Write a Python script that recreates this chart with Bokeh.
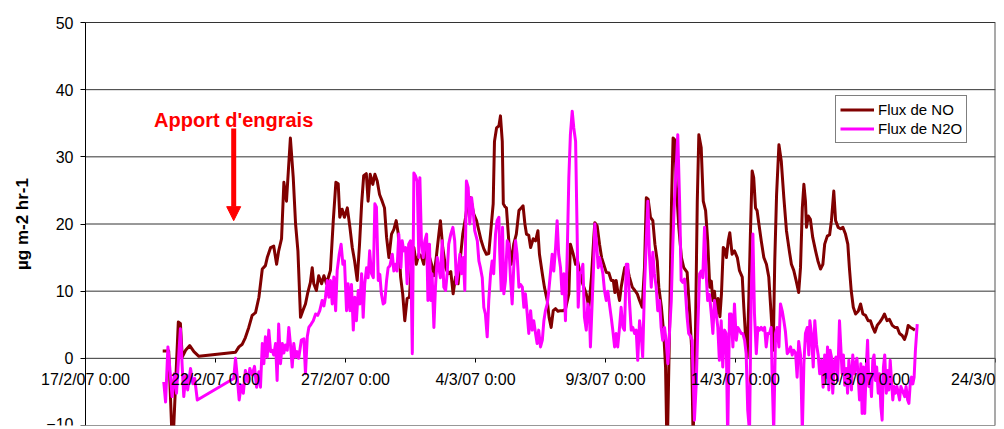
import math
import pandas as pd
from bokeh.plotting import figure
from bokeh.models import (Range1d, FixedTicker, Legend, LegendItem,
                          Arrow, NormalHead, Label)
from bokeh.embed import file_html
from bokeh.resources import INLINE

# ---------------- data ----------------
start_date = "2007-02-17"
end_date = "2007-03-24"
tick_dates = ["2007-02-17", "2007-02-22", "2007-02-27", "2007-03-04",
              "2007-03-09", "2007-03-14", "2007-03-19", "2007-03-24"]
y_ticks = [-10, 0, 10, 20, 30, 40, 50]
y_title = "µg m-2 hr-1"

# days elapsed since 17/2/07 0:00
no_day = [2.97, 3.20, 3.35, 3.57, 3.65, 3.72, 3.85, 4.01, 4.17, 4.36,
          5.77, 5.90, 6.03, 6.15, 6.28, 6.41, 6.54, 6.67, 6.80, 6.92,
          6.99, 7.12, 7.24, 7.35, 7.43, 7.54, 7.63, 7.73, 7.88, 7.99,
          8.08, 8.17, 8.27, 8.36, 8.46, 8.55, 8.65, 8.72, 8.78, 8.88,
          8.97, 9.08, 9.17, 9.27, 9.42, 9.53, 9.63, 9.72, 9.78, 9.87,
          9.96, 10.07, 10.17, 10.26, 10.35, 10.45, 10.54, 10.62, 10.70, 10.80,
          10.87, 10.95, 11.05, 11.13, 11.22, 11.31, 11.41, 11.50, 11.58, 11.67,
          11.77, 11.86, 11.95, 12.03, 12.12, 12.20, 12.28, 12.37, 12.46, 12.54,
          12.63, 12.72, 12.82, 12.92, 13.01, 13.10, 13.20, 13.31, 13.40, 13.49,
          13.59, 13.65, 13.74, 13.85, 13.95, 14.05, 14.14, 14.23, 14.33, 14.42,
          14.51, 14.62, 14.72, 14.81, 14.93, 15.04, 15.13, 15.22, 15.32, 15.42,
          15.51, 15.60, 15.68, 15.73, 15.81, 15.90, 15.96, 16.03, 16.07, 16.13,
          16.19, 16.28, 16.37, 16.47, 16.57, 16.67, 16.76, 16.83, 16.90, 16.96,
          17.05, 17.12, 17.22, 17.31, 17.40, 17.46, 17.57, 17.65, 17.76, 17.83,
          17.91, 17.99, 18.08, 18.17, 18.27, 18.37, 18.46, 18.59, 18.65, 18.76,
          18.85, 18.93, 19.08, 19.17, 19.26, 19.36, 19.46, 19.55, 19.59, 19.68,
          19.77, 19.85, 19.93, 20.03, 20.13, 20.22, 20.30, 20.36, 20.41, 20.47,
          20.54, 20.60, 20.67, 20.74, 20.83, 20.92, 21.03, 21.13, 21.22, 21.31,
          21.41, 21.50, 21.57, 21.64, 21.73, 21.82, 21.90, 21.99, 22.05, 22.15,
          22.24, 22.31, 22.37, 22.46, 22.54, 22.60, 22.67, 22.72, 22.82, 22.92,
          23.01, 23.14, 23.24, 23.31, 23.37, 23.46, 23.53, 23.59, 23.68, 23.76,
          23.85, 23.93, 24.01, 24.07, 24.13, 24.19, 24.27, 24.33, 24.40, 24.46,
          24.53, 24.59, 24.65, 24.72, 24.78, 24.87, 24.96, 25.07, 25.15, 25.26,
          25.32, 25.38, 25.45, 25.51, 25.58, 25.64, 25.70, 25.77, 25.83, 25.90,
          25.99, 26.09, 26.19, 26.28, 26.37, 26.45, 26.51, 26.58, 26.67, 26.76,
          26.86, 26.96, 27.07, 27.15, 27.24, 27.33, 27.43, 27.50, 27.57, 27.63,
          27.69, 27.73, 27.80, 27.88, 27.97, 28.08, 28.17, 28.27, 28.36, 28.43,
          28.53, 28.62, 28.69, 28.78, 28.85, 28.95, 29.04, 29.13, 29.23, 29.32,
          29.38, 29.45, 29.53, 29.62, 29.72, 29.81, 29.90, 30.00, 30.10, 30.19,
          30.28, 30.36, 30.45, 30.55, 30.64, 30.73, 30.83, 30.92, 31.03, 31.13,
          31.22, 31.31, 31.41, 31.50, 31.58, 31.64, 31.73, 31.82, 31.90]
no_flux = [1.1, 1.1, -14, 5.4, 5.2, 0.2, 1.2, 1.9, 1.0, 0.3,
           0.9, 1.7, 2.1, 3.1, 4.6, 6.4, 6.8, 9.1, 13.3, 13.8,
           15.0, 16.5, 16.7, 14.0, 16.0, 17.8, 26.2, 23.4, 32.8, 26.9,
           20.0, 16.0, 6.1, 7.1, 8.1, 9.8, 11.3, 13.5, 11.1, 10.1,
           12.3, 11.1, 12.3, 11.1, 13.1, 20.5, 26.2, 26.0, 21.0, 22.2,
           21.0, 22.4, 19.5, 16.5, 14.5, 11.6, 17.0, 23.0, 27.2, 27.5,
           23.4, 27.4, 25.9, 27.4, 26.4, 24.4, 23.4, 22.4, 18.0, 15.0,
           18.5, 19.2, 20.5, 18.5, 12.1, 9.6, 5.6, 8.9, 9.1, 14.5,
           16.5, 14.0, 15.5, 15.2, 14.0, 17.0, 15.5, 14.0, 12.3, 15.0,
           18.5, 20.5, 16.5, 13.5, 12.6, 12.9, 9.6, 12.1, 11.1, 15.0,
           18.5, 21.0, 23.9, 23.9, 21.5, 20.5, 19.0, 17.5, 16.3, 15.5,
           15.6, 19.5, 23.0, 32.3, 34.3, 34.6, 36.1, 32.3, 23.0, 22.6,
           22.4, 17.5, 14.0, 17.0, 18.5, 22.0, 22.4, 22.7, 20.0, 18.5,
           18.3, 16.5, 17.8, 17.5, 19.0, 15.5, 12.6, 10.6, 8.6, 6.1,
           4.6, 7.1, 7.4, 7.0, 7.1, 7.1, 7.3, 9.6, 17.0, 15.5,
           14.0, 14.4, 11.6, 10.6, 9.6, 7.6, 12.1, 18.0, 20.2, 19.7,
           17.0, 15.0, 14.0, 12.8, 12.7, 11.6, 11.6, 9.8, 11.6, 10.0,
           8.6, 10.5, 12.1, 13.5, 13.7, 12.1, 10.6, 10.1, 9.6, 8.6,
           7.6, 13.5, 23.9, 23.7, 21.0, 20.5, 17.0, 14.5, 10.6, 7.6,
           3.7, -1.3, -15, 3.7, 23.4, 32.8, 32.5, 25.9, 19.5, 15.0,
           13.5, 12.8, 6.6, 1.7, -12, 3.7, 23.4, 33.3, 31.4, 23.4,
           22.0, 17.5, 10.6, 11.5, 8.6, 10.0, 6.6, 8.9, 6.2, 9.6,
           16.5, 16.2, 15.0, 17.5, 18.7, 15.5, 16.0, 15.0, 13.1, 12.1,
           7.6, 3.7, 0.2, 8.6, 19.5, 27.9, 26.9, 22.4, 22.0, 20.0,
           17.5, 15.0, 14.0, 12.1, 6.6, 1.2, 14.5, 24.4, 31.8, 29.4,
           23.9, 19.0, 16.0, 14.0, 13.1, 11.6, 9.8, 13.5, 22.4, 25.9,
           23.4, 19.5, 21.2, 20.7, 18.0, 16.0, 14.5, 13.3, 14.0, 17.0,
           18.2, 18.4, 20.5, 24.9, 20.5, 19.5, 19.3, 19.5, 18.5, 17.0,
           13.5, 10.1, 7.6, 6.6, 7.0, 8.1, 6.6, 6.4, 5.6, 5.6,
           4.6, 3.9, 4.9, 5.4, 5.9, 6.6, 5.6, 5.8, 4.9, 4.6,
           4.6, 3.7, 3.4, 2.8, 3.7, 4.9, 4.6, 4.4, 4.2]

n2o_day = [3.01, 3.08, 3.17, 3.24, 3.33, 3.42, 3.50, 3.59, 3.65, 3.72,
           3.78, 3.86, 3.93, 4.04, 4.13, 4.20, 4.30, 5.70, 5.77, 5.83,
           5.91, 5.99, 6.07, 6.15, 6.24, 6.32, 6.41, 6.50, 6.58, 6.67,
           6.73, 6.80, 6.86, 6.92, 6.99, 7.05, 7.12, 7.18, 7.24, 7.31,
           7.37, 7.43, 7.50, 7.57, 7.63, 7.69, 7.76, 7.82, 7.88, 7.95,
           8.01, 8.08, 8.14, 8.20, 8.30, 8.40, 8.46, 8.53, 8.59, 8.68,
           8.76, 8.85, 8.93, 9.01, 9.10, 9.17, 9.23, 9.30, 9.36, 9.42,
           9.49, 9.55, 9.62, 9.68, 9.76, 9.83, 9.90, 9.96, 10.04, 10.10,
           10.17, 10.23, 10.30, 10.36, 10.42, 10.49, 10.55, 10.62, 10.68, 10.74,
           10.81, 10.87, 10.93, 11.00, 11.07, 11.13, 11.19, 11.26, 11.32, 11.38,
           11.45, 11.51, 11.58, 11.64, 11.71, 11.80, 11.86, 11.92, 11.98, 12.05,
           12.13, 12.18, 12.24, 12.31, 12.37, 12.43, 12.50, 12.57, 12.63, 12.69,
           12.76, 12.82, 12.86, 12.92, 12.99, 13.05, 13.12, 13.17, 13.23, 13.28,
           13.33, 13.40, 13.46, 13.53, 13.59, 13.65, 13.72, 13.78, 13.85, 13.91,
           13.97, 14.05, 14.13, 14.20, 14.27, 14.33, 14.40, 14.46, 14.53, 14.59,
           14.65, 14.72, 14.78, 14.85, 14.91, 14.97, 15.07, 15.13, 15.19, 15.26,
           15.32, 15.38, 15.45, 15.51, 15.58, 15.64, 15.70, 15.77, 15.83, 15.90,
           15.93, 15.99, 16.04, 16.09, 16.15, 16.22, 16.28, 16.35, 16.41, 16.47,
           16.54, 16.60, 16.67, 16.73, 16.80, 16.86, 16.92, 16.99, 17.05, 17.12,
           17.18, 17.24, 17.31, 17.37, 17.43, 17.50, 17.57, 17.63, 17.69, 17.76,
           17.82, 17.88, 17.95, 18.01, 18.08, 18.14, 18.20, 18.27, 18.33, 18.40,
           18.46, 18.53, 18.59, 18.65, 18.72, 18.78, 18.85, 18.91, 18.95, 19.01,
           19.08, 19.13, 19.19, 19.26, 19.32, 19.38, 19.42, 19.49, 19.55, 19.59,
           19.65, 19.72, 19.77, 19.83, 19.90, 19.96, 20.03, 20.09, 20.15, 20.22,
           20.28, 20.35, 20.41, 20.47, 20.54, 20.60, 20.67, 20.73, 20.80, 20.86,
           20.92, 20.99, 21.05, 21.12, 21.18, 21.24, 21.31, 21.37, 21.43, 21.50,
           21.57, 21.63, 21.69, 21.76, 21.82, 21.88, 21.95, 22.01, 22.08, 22.14,
           22.20, 22.27, 22.33, 22.40, 22.46, 22.53, 22.59, 22.65, 22.72, 22.78,
           22.85, 22.91, 22.97, 23.04, 23.08, 23.14, 23.20, 23.27, 23.33, 23.37,
           23.42, 23.49, 23.55, 23.62, 23.68, 23.74, 23.81, 23.87, 23.93, 24.00,
           24.07, 24.13, 24.19, 24.26, 24.32, 24.38, 24.45, 24.51, 24.58, 24.64,
           24.70, 24.77, 24.83, 24.90, 24.96, 25.03, 25.09, 25.15, 25.22, 25.28,
           25.35, 25.41, 25.47, 25.54, 25.60, 25.67, 25.73, 25.80, 25.86, 25.92,
           25.99, 26.05, 26.12, 26.18, 26.24, 26.31, 26.37, 26.41, 26.47, 26.54,
           26.60, 26.67, 26.73, 26.80, 26.86, 26.92, 26.99, 27.05, 27.12, 27.18,
           27.24, 27.31, 27.37, 27.43, 27.50, 27.57, 27.63, 27.69, 27.76, 27.82,
           27.86, 27.92, 27.99, 28.05, 28.12, 28.18, 28.24, 28.31, 28.37, 28.43,
           28.49, 28.54, 28.59, 28.64, 28.69, 28.74, 28.81, 28.87, 28.93, 29.00,
           29.05, 29.10, 29.15, 29.20, 29.26, 29.31, 29.36, 29.41, 29.46, 29.51,
           29.57, 29.62, 29.67, 29.72, 29.77, 29.82, 29.87, 29.92, 29.97, 30.03,
           30.08, 30.13, 30.18, 30.23, 30.28, 30.33, 30.38, 30.43, 30.49, 30.54,
           30.59, 30.64, 30.69, 30.74, 30.80, 30.85, 30.90, 30.95, 31.00, 31.05,
           31.10, 31.15, 31.21, 31.26, 31.31, 31.36, 31.41, 31.46, 31.51, 31.56,
           31.62, 31.67, 31.72, 31.77, 31.82, 31.87, 31.92, 31.99]
n2o_flux = [-3.5, -6.5, 1.7, -1.3, -5.7, -2.3, -5.2, 0.7, 4.4, -1.3,
            -5.7, -2.5, -4.7, -1.5, -3.8, -3.0, -6.2, -3.0, 0.0, -2.5,
            -6.2, -4.0, -5.2, -1.8, -3.5, -1.5, -2.5, -1.2, -4.3, -2.0,
            -4.3, 2.2, -0.8, 3.2, 0.2, 4.2, 1.0, 1.2, 0.5, 2.2,
            -3.3, 5.1, -0.8, 2.2, 0.8, 2.0, 1.2, 4.6, 2.2, -1.3,
            2.2, 0.2, 1.0, 0.0, 2.7, 2.9, -2.3, 3.2, 4.6, 5.1,
            5.6, 6.6, 6.4, 7.1, 8.6, 7.8, 9.1, 11.6, 9.1, 11.6,
            8.1, 12.1, 7.1, 13.1, 15.5, 17.0, 14.0, 14.5, 7.1, 11.1,
            7.1, 11.0, 4.2, 9.1, 5.6, 10.1, 8.1, 12.6, 6.1, 11.1,
            13.5, 12.0, 16.0, 12.6, 12.0, 23.0, 22.5, 11.6, 12.5, 9.6,
            8.1, 8.3, 11.6, 13.5, 13.8, 15.5, 13.0, 14.0, 13.0, 18.5,
            13.5, 17.5, 16.0, 16.5, 11.1, 17.0, 17.5, 0.7, 27.6, 27.2,
            26.3, 15.0, 26.9, 17.5, 15.0, 17.5, 18.5, 8.6, 17.0, 8.6,
            12.6, 4.6, 10.6, 15.0, 13.5, 12.0, 17.5, 10.6, 10.1, 12.6,
            17.0, 18.5, 19.5, 17.5, 11.1, 13.0, 15.5, 12.6, 15.0, 10.1,
            26.4, 25.4, 20.0, 23.9, 22.0, 19.0, 17.5, 14.5, 13.5, 12.0,
            7.6, 6.6, 3.2, 8.6, 12.6, 14.5, 12.6, 18.5, 20.5, 21.0,
            16.0, 10.1, 19.5, 9.6, 11.5, 17.5, 17.0, 11.6, 8.1, 13.5,
            17.5, 15.5, 10.6, 11.0, 10.6, 7.6, 9.6, 6.6, 3.7, 7.1,
            4.2, 5.6, 3.7, 2.2, 4.2, 1.7, 2.7, 5.6, 7.1, 8.1,
            10.1, 12.6, 15.5, 13.0, 16.5, 20.5, 15.5, 13.5, 9.6, 12.6,
            5.6, 16.0, 26.9, 33.3, 36.8, 34.3, 32.3, 18.5, 7.6, 12.6,
            13.0, 14.0, 6.1, 4.2, 8.1, 7.0, 1.7, 8.6, 14.5, 20.0,
            17.5, 13.5, 15.0, 14.0, 12.6, 10.1, 8.6, 10.0, 8.1, 6.1,
            4.2, 1.7, 3.7, 1.7, 4.6, 7.6, 4.6, 4.2, 14.0, 14.0,
            8.6, 4.2, 4.6, 3.7, 4.2, -0.3, 5.6, 3.7, 0.2, 10.6,
            17.5, 23.4, 15.5, 10.6, 15.8, 12.6, 10.6, 7.1, 8.6, 4.6,
            2.7, 4.6, 2.7, -0.8, 3.7, 8.6, 17.0, 23.4, 28.4, 33.3,
            23.4, 11.6, 11.3, 11.8, 9.6, 6.1, 3.7, 3.3, 2.7, -2.3,
            -9.2, -3.8, 4.6, 12.6, 13.0, 12.0, 19.5, 12.6, 8.6, 9.5,
            6.6, 3.7, 8.6, 6.6, 4.6, -0.3, 5.6, -1.3, 4.2, 3.7,
            -12, 6.6, 6.6, 1.7, 8.1, 2.7, 4.6, 4.2, 3.7, 3.7,
            2.7, 0.7, -7.7, -11, 8.6, 18.5, 6.6, 0.7, 4.6, 4.2,
            4.6, 4.2, 4.6, 1.7, 3.7, 3.7, 4.6, -2.8, -11, 3.7,
            4.6, 1.7, 8.1, 7.0, 5.6, 4.0, 0.7, 1.0, 1.7, 0.5,
            1.2, 0.8, -2.8, 2.5, 0.5, -11, -0.8, 3.7, 4.6, 0.5,
            5.6, 3.7, -1.3, 5.6, 2.0, 0.5, -2.3, -0.3, -4.3, 0.5,
            -2.8, 1.7, -4.7, 1.2, 0.2, -5.2, -0.3, 0.2, -3.3, 5.6,
            1.7, -2.3, 0.5, -4.0, -1.5, -5.2, -0.3, -2.3, -4.7, 0.5,
            -2.3, -1.0, 0.0, -2.8, -6.2, -0.8, -8.2, -1.3, -8.2, -1.3,
            2.7, -4.2, -2.3, -5.7, -0.3, 0.5, -3.3, -1.3, -5.2, -2.3,
            -7.2, -9.2, -1.3, 0.5, -5.2, -1.8, -4.7, -0.3, -3.3, -6.2,
            -4.2, -5.2, -4.2, -5.2, -6.2, -4.2, -4.7, -5.2, -5.7, -4.2,
            -6.2, -6.7, -3.8, -2.8, -3.8, -2.8, 1.2, 5.1]

annot_text = "Apport d'engrais"
annot_day = 5.70            # fertiliser application
annot_arrow = (34.2, 20.5)  # arrow from / to (flux units)
annot_label_y = 35.5

assert len(no_day) == len(no_flux), (len(no_day), len(no_flux))
assert len(n2o_day) == len(n2o_flux), (len(n2o_day), len(n2o_flux))

t0 = pd.Timestamp(start_date)
t1 = pd.Timestamp(end_date)
no_t = [t0 + pd.Timedelta(days=d) for d in no_day]
n2o_t = [t0 + pd.Timedelta(days=d) for d in n2o_day]


def ms(ts):
    return ts.value / 1e6


# ---------------- figure ----------------
# The frame is widened to the left of 17/2 and above 50 so that the axis
# texts that sit inside it (tick labels at y = 0, value labels) are not clipped.
FONT = "Liberation Sans"
W, H = 1004, 429
RIGHT, BOTTOM = 9, 4
AXIS_PX = 85                      # screen x of the value axis
TOP_PX = 22                       # screen y of the 50 line
FRAME_TOP = 6
px_per_day = (W - RIGHT - AXIS_PX) / (t1 - t0).days
x_lo = t0 - pd.Timedelta(days=AXIS_PX / px_per_day)
px_per_unit = (H - BOTTOM - TOP_PX) / (y_ticks[-1] - y_ticks[0])
y_hi = y_ticks[-1] + (TOP_PX - FRAME_TOP) / px_per_unit

p = figure(width=W, height=H, x_axis_type="datetime",
           x_range=Range1d(ms(x_lo), ms(t1)),
           y_range=Range1d(y_ticks[0], y_hi),
           output_backend="svg", toolbar_location=None,
           min_border_left=0, min_border_right=RIGHT, min_border_top=FRAME_TOP,
           min_border_bottom=BOTTOM)
p.background_fill_color = "white"
p.border_fill_color = "white"
p.outline_line_color = None
p.xgrid.grid_line_color = None
p.ygrid.grid_line_color = None

# horizontal grid lines and right border, from 17/2 onwards
p.segment(x0=[t0] * len(y_ticks), x1=[t1] * len(y_ticks), y0=y_ticks, y1=y_ticks,
          line_color="#333333", line_width=1)
p.segment(x0=[t1], x1=[t1], y0=[y_ticks[0]], y1=[y_ticks[-1]],
          line_color="#555555", line_width=2)

r_no = p.line(no_t, no_flux, line_color="#800000", line_width=3, line_join="round")
r_n2o = p.line(n2o_t, n2o_flux, line_color="#FF00FF", line_width=3, line_join="round")

# x axis crossing at y = 0 (ticks only); labels drawn as annotations
xa = p.xaxis[0]
xa.fixed_location = 0
xa.ticker = FixedTicker(ticks=[ms(pd.Timestamp(d)) for d in tick_dates])
xa.major_tick_in = 0
xa.major_tick_out = 4
xa.minor_tick_line_color = None
xa.axis_line_color = None
xa.major_tick_line_color = "black"
xa.major_label_text_color = None

for d in tick_dates:
    ts = pd.Timestamp(d)
    p.add_layout(Label(x=ms(ts), y=0, text=f"{ts.day}/{ts.month}/{ts:%y} 0:00",
                       text_align="center", text_baseline="top", y_offset=-13,
                       text_font=FONT, text_font_size="16px", text_color="black"))

# value axis at 17/2
ya = p.yaxis[0]
ya.fixed_location = ms(t0)
ya.bounds = (y_ticks[0], y_ticks[-1])
ya.ticker = FixedTicker(ticks=y_ticks)
ya.major_tick_in = 0
ya.major_tick_out = 5
ya.minor_tick_line_color = None
ya.axis_line_color = "black"
ya.major_tick_line_color = "black"
ya.major_label_text_font = FONT
ya.major_label_text_font_size = "16px"
ya.major_label_text_color = "black"
ya.major_label_standoff = 7

p.add_layout(Label(x=22, y=20, x_units="screen", y_units="data",
                   text=y_title, angle=math.pi / 2, text_align="center",
                   text_baseline="middle", text_font=FONT, text_font_style="bold",
                   text_font_size="17px", text_color="black"))

# annotation
ax = ms(t0 + pd.Timedelta(days=annot_day))
p.add_layout(Arrow(end=NormalHead(size=14, fill_color="#FF0000", line_color="#FF0000"),
                   x_start=ax, y_start=annot_arrow[0], x_end=ax, y_end=annot_arrow[1],
                   line_color="#FF0000", line_width=5))
p.add_layout(Label(x=ax, y=annot_label_y, text=annot_text, text_align="center",
                   text_baseline="alphabetic", text_color="#FF0000", text_font=FONT,
                   text_font_style="bold", text_font_size="20px"))

legend = Legend(items=[LegendItem(label="Flux de NO", renderers=[r_no]),
                       LegendItem(label="Flux de N2O", renderers=[r_n2o])],
                location=(835, 282))
legend.label_text_font = FONT
legend.label_text_font_size = "15px"
legend.label_text_color = "black"
legend.glyph_width = 34
legend.glyph_height = 19
legend.label_height = 19
legend.label_standoff = 4
legend.spacing = 0
legend.padding = 4
legend.margin = 0
legend.border_line_color = "black"
legend.border_line_width = 1
legend.background_fill_color = "white"
legend.background_fill_alpha = 1
p.add_layout(legend)

open("out.html", "w").write(file_html(p, INLINE))
